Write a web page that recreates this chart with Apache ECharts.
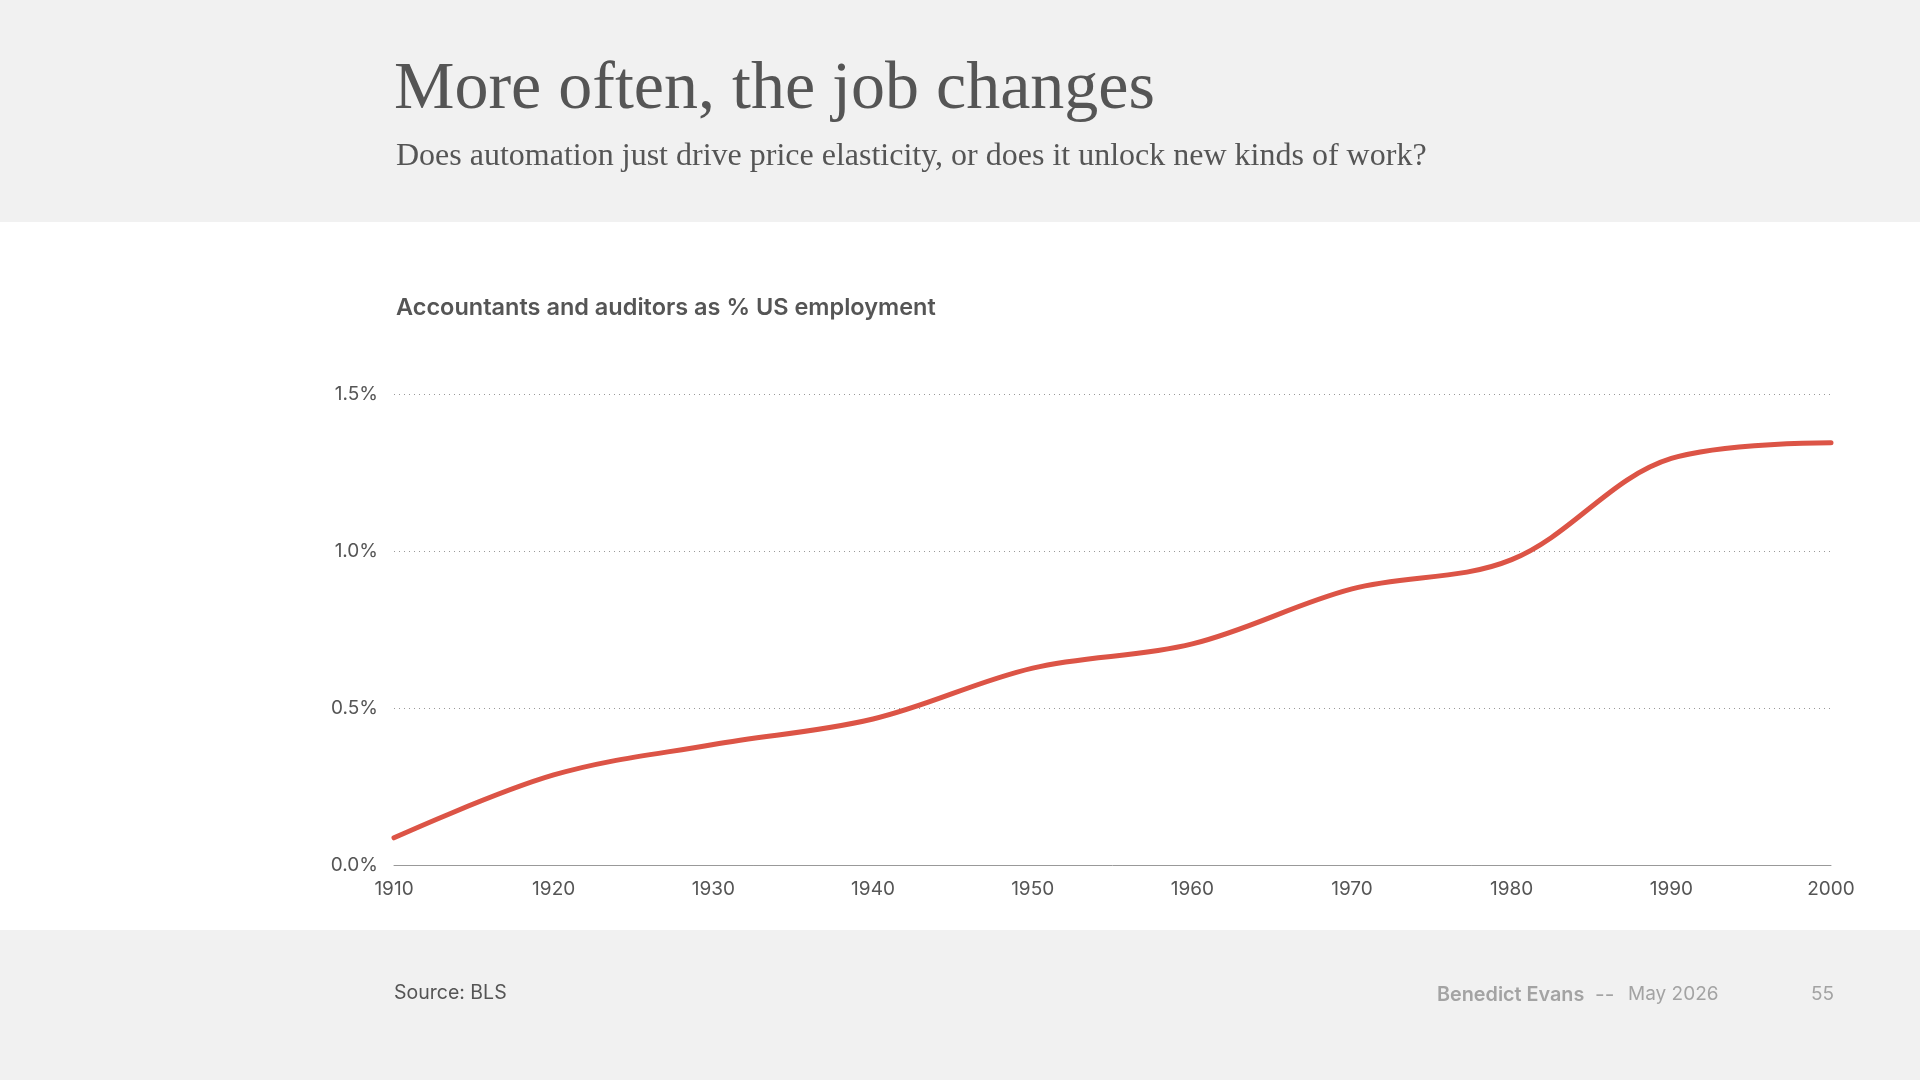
<!DOCTYPE html>
<html>
<head>
<meta charset="utf-8">
<title>Accountants and auditors as % US employment</title>
<script src="https://cdn.jsdelivr.net/npm/echarts@6/dist/echarts.min.js"></script>
<style>
  html, body { margin: 0; padding: 0; background: #fff; }
  #chart { width: 1920px; height: 1080px; }
</style>
</head>
<body>
<div id="chart"></div>
<script>
// Census years and share of US employment (%)
const years = [1910, 1920, 1930, 1940, 1950, 1960, 1970, 1980, 1990, 2000]
const share = [0.088, 0.288, 0.385, 0.466, 0.628, 0.705, 0.880, 0.973, 1.295, 1.345]

const yTicks = [0, 0.5, 1.0, 1.5]

const headline = 'More often, the job changes'
const subhead = 'Does automation just drive price elasticity, or does it unlock new kinds of work?'
const chartTitle = 'Accountants and auditors as % US employment'
const sourceNote = 'Source: BLS'

const serif = '"Liberation Serif", "DejaVu Serif", serif'
const sans = 'Inter, "Noto Sans", sans-serif'
const ink = '#555555'
const footGrey = '#a3a3a3'
const paleGrey = '#f1f1f1'

const chart = echarts.init(document.getElementById('chart'))

const points = years.map((y, i) => [y, share[i]])

chart.setOption({
  animation: false,
  backgroundColor: '#ffffff',
  graphic: [
    // header and footer bands
    { type: 'rect', z: -10, shape: { x: 0, y: 0, width: 1920, height: 222 }, style: { fill: paleGrey } },
    { type: 'rect', z: -10, shape: { x: 0, y: 930, width: 1920, height: 150 }, style: { fill: paleGrey } },
    {
      type: 'text', left: 394, top: 56,
      style: { text: headline, font: '400 68px ' + serif, fill: ink }
    },
    {
      type: 'text', left: 396, top: 141,
      style: { text: subhead, font: '400 32px ' + serif, fill: ink }
    },
    {
      type: 'text', left: 396, top: 296,
      style: { text: chartTitle, font: '600 23.5px ' + sans, fill: ink }
    },
    {
      type: 'text', left: 394, top: 983,
      style: { text: sourceNote, font: '400 19.5px ' + sans, fill: ink }
    },
    {
      type: 'text', left: 1437, top: 985,
      style: { text: 'Benedict Evans', font: '600 19.8px ' + sans, fill: footGrey }
    },
    {
      type: 'text', left: 1595, top: 985,
      style: { text: '--', font: '400 21px ' + sans, fill: footGrey }
    },
    {
      type: 'text', left: 1628, top: 985,
      style: { text: 'May 2026', font: '400 19px ' + sans, fill: footGrey }
    },
    {
      type: 'text', right: 86, top: 985,
      style: { text: '55', font: '400 19px ' + sans, fill: footGrey }
    }
  ],
  grid: {
    left: 394,
    right: 89,
    top: 394,
    bottom: 214.5,
    containLabel: false
  },
  xAxis: {
    type: 'value',
    min: years[0],
    max: years[years.length - 1],
    interval: 10,
    axisLine: { show: true, lineStyle: { color: '#999999', width: 1 } },
    axisTick: { show: false },
    splitLine: { show: false },
    axisLabel: {
      color: ink,
      fontFamily: sans,
      fontSize: 19,
      margin: 14,
      formatter: (v) => String(v)
    }
  },
  yAxis: {
    type: 'value',
    min: yTicks[0],
    max: yTicks[yTicks.length - 1],
    interval: 0.5,
    axisLine: { show: false },
    axisTick: { show: false },
    splitLine: {
      show: true,
      lineStyle: { color: '#999999', type: [1, 4], width: 1 }
    },
    axisLabel: {
      color: ink,
      fontFamily: sans,
      fontSize: 19,
      margin: 16,
      formatter: (v) => v.toFixed(1) + '%'
    }
  },
  series: [
    {
      type: 'line',
      data: points,
      smooth: 0.35,
      symbol: 'none',
      lineStyle: { color: '#dc5446', width: 5, cap: 'round' }
    }
  ]
})
</script>
</body>
</html>
